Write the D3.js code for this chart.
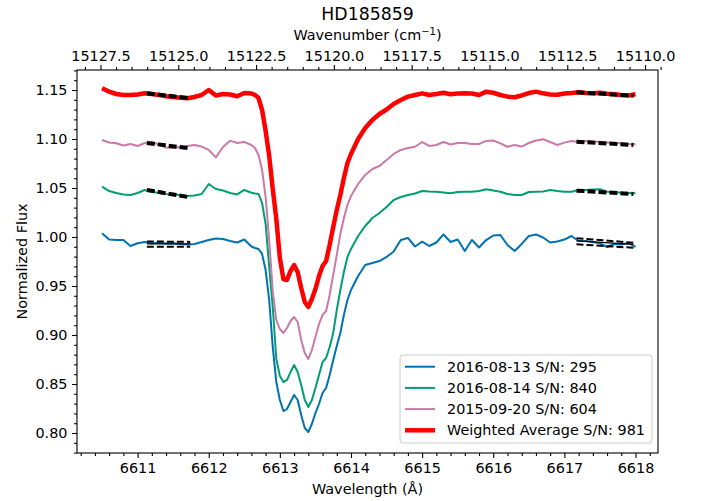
<!DOCTYPE html>
<html>
<head>
<meta charset="utf-8">
<script src="https://cdn.jsdelivr.net/npm/d3@7"></script>
<style>
  body { margin: 0; background: #fff; }
  text { font-family: "DejaVu Sans", sans-serif; fill: #000; }
</style>
</head>
<body>
<svg id="chart" width="705" height="501"></svg>
<script>
// wavelength grid (Å), finer through the line core
const wavelength = [
  6610.5, 6610.6, 6610.7, 6610.8, 6610.9, 6611.0, 6611.1, 6611.2, 6611.3, 6611.4,
  6611.5, 6611.6, 6611.7, 6611.8, 6611.9, 6612.0, 6612.1, 6612.2, 6612.3, 6612.4,
  6612.5,
  6612.6, 6612.65, 6612.7, 6612.75, 6612.8, 6612.85, 6612.9, 6612.95, 6613.0, 6613.05,
  6613.1, 6613.15, 6613.2, 6613.25, 6613.3, 6613.35, 6613.4, 6613.45, 6613.5, 6613.55,
  6613.6, 6613.65, 6613.7, 6613.75, 6613.8, 6613.85, 6613.9, 6613.95, 6614.0,
  6614.1, 6614.2, 6614.3, 6614.4, 6614.5, 6614.6, 6614.7, 6614.8, 6614.9, 6615.0,
  6615.1, 6615.2, 6615.3, 6615.4, 6615.5, 6615.6, 6615.7, 6615.8, 6615.9, 6616.0,
  6616.1, 6616.2, 6616.3, 6616.4, 6616.5, 6616.6, 6616.7, 6616.8, 6616.9, 6617.0,
  6617.1, 6617.2, 6617.3, 6617.4, 6617.5, 6617.6, 6617.7, 6617.8, 6617.9, 6618.0
];

const flux20160813 = [
  1.0038, 0.9974, 0.9969, 0.9969, 0.9908, 0.9936, 0.9949, 0.9936, 0.9942, 0.9934,
  0.9936, 0.9929, 0.9923, 0.9929, 0.9949, 0.9969, 0.9985, 0.9980, 0.9959, 0.9944,
  0.9974,
  0.9903, 0.9888, 0.9878, 0.9827, 0.9663, 0.9357, 0.8878, 0.8520, 0.8337, 0.8224,
  0.8245, 0.8316, 0.8388, 0.8337, 0.8184, 0.8051, 0.8010, 0.8092, 0.8204, 0.8296,
  0.8408, 0.8459, 0.8592, 0.8745, 0.8888, 0.9020, 0.9204, 0.9357, 0.9459,
  0.9602, 0.9714, 0.9735, 0.9755, 0.9796, 0.9852, 0.9969, 0.9990, 0.9903, 0.9952,
  0.9908, 0.9944, 1.0026, 0.9949, 0.9974, 0.9857, 0.9969, 0.9893, 0.9969, 1.0015,
  1.0020, 0.9918, 0.9857, 0.9929, 1.0010, 1.0026, 0.9995, 0.9944, 0.9954, 0.9974,
  1.0010, 0.9959, 0.9959, 0.9949, 0.9936, 0.9898, 0.9929, 0.9923, 0.9939, 0.9898
];

const flux20160814 = [
  1.0513, 1.0469, 1.0449, 1.0434, 1.0429, 1.0449, 1.0480, 1.0462, 1.0449, 1.0439,
  1.0434, 1.0429, 1.0418, 1.0423, 1.0439, 1.0541, 1.0490, 1.0474, 1.0449, 1.0434,
  1.0480,
  1.0452, 1.0444, 1.0439, 1.0347, 1.0133, 0.9694, 0.9286, 0.8755, 0.8582, 0.8520,
  0.8541, 0.8622, 0.8694, 0.8622, 0.8490, 0.8337, 0.8265, 0.8337, 0.8459, 0.8592,
  0.8724, 0.8765, 0.8878, 0.9020, 0.9255, 0.9459, 0.9643, 0.9796, 0.9878,
  1.0010, 1.0112, 1.0194, 1.0245, 1.0306, 1.0378, 1.0408, 1.0429, 1.0444, 1.0469,
  1.0464, 1.0462, 1.0454, 1.0446, 1.0459, 1.0462, 1.0462, 1.0469, 1.0487, 1.0474,
  1.0462, 1.0439, 1.0429, 1.0429, 1.0459, 1.0462, 1.0464, 1.0480, 1.0469, 1.0462,
  1.0462, 1.0480, 1.0480, 1.0485, 1.0487, 1.0462, 1.0459, 1.0452, 1.0449, 1.0446
];

const flux20150920 = [
  1.0990, 1.0964, 1.0956, 1.0934, 1.0949, 1.0929, 1.0959, 1.0969, 1.0944, 1.0913,
  1.0908, 1.0918, 1.0929, 1.0939, 1.0923, 1.0888, 1.0812, 1.0918, 1.0983, 1.0959,
  1.0969,
  1.0939, 1.0908, 1.0837, 1.0684, 1.0408, 0.9969, 0.9449, 0.9153, 0.9061, 0.9020,
  0.9071, 0.9143, 0.9184, 0.9133, 0.8949, 0.8816, 0.8755, 0.8847, 0.8980, 0.9112,
  0.9204, 0.9245, 0.9408, 0.9612, 0.9816, 1.0031, 1.0194, 1.0327, 1.0418,
  1.0541, 1.0633, 1.0694, 1.0724, 1.0786, 1.0847, 1.0888, 1.0908, 1.0921, 1.0969,
  1.0929, 1.0939, 1.0969, 1.0944, 1.0959, 1.0959, 1.0949, 1.0949, 1.0980, 1.0985,
  1.0956, 1.0921, 1.0939, 1.0923, 1.0959, 1.0985, 1.0997, 1.0969, 1.0939, 1.0963,
  1.0980, 1.0969, 1.0980, 1.0974, 1.0972, 1.0964, 1.0956, 1.0956, 1.0949, 1.0946
];

const fluxAverage = [
  1.1517, 1.1483, 1.1459, 1.1449, 1.1449, 1.1454, 1.1466, 1.1459, 1.1449, 1.1436,
  1.1429, 1.1421, 1.1415, 1.1429, 1.1449, 1.1500, 1.1444, 1.1459, 1.1454, 1.1436,
  1.1469,
  1.1464, 1.1449, 1.1418, 1.1296, 1.1082, 1.0827, 1.0490, 1.0184, 0.9786, 0.9571,
  0.9561, 0.9653, 0.9714, 0.9643, 0.9480, 0.9337, 0.9286, 0.9367, 0.9469, 0.9602,
  0.9704, 0.9755, 0.9918, 1.0102, 1.0276, 1.0429, 1.0602, 1.0755, 1.0847,
  1.1000, 1.1112, 1.1194, 1.1255, 1.1301, 1.1357, 1.1398, 1.1432, 1.1449, 1.1466,
  1.1449, 1.1459, 1.1472, 1.1456, 1.1464, 1.1466, 1.1464, 1.1449, 1.1483, 1.1472,
  1.1449, 1.1432, 1.1426, 1.1444, 1.1469, 1.1483, 1.1466, 1.1454, 1.1452, 1.1464,
  1.1469, 1.1477, 1.1469, 1.1466, 1.1472, 1.1462, 1.1456, 1.1449, 1.1444, 1.1456
];

const seriesLabels = ['2016-08-13 S/N: 295', '2016-08-14 S/N: 840', '2015-09-20 S/N: 604', 'Weighted Average S/N: 981'];
const seriesColors = ['#0072B2', '#009E73', '#CC79A7', '#FF0000'];
const seriesWidths = [2, 2, 2, 4.5];

// continuum regions and the fitted levels at their ends
const fitLeft = [6611.13, 6611.74];
const fitRight = [6617.17, 6617.97];
const fitAverage = [[1.1466, 1.1415], [1.1477, 1.1442]];
const fit20150920 = [[1.0959, 1.0904], [1.0972, 1.0939]];
const fit20160814 = [[1.0480, 1.0404], [1.0473, 1.0439]];
const fit20160813 = [[0.9929, 0.9929], [0.9960, 0.9925]];
const fit20160813Upper = [[0.9955, 0.9950], [0.9987, 0.9942]];
const fit20160813Lower = [[0.9901, 0.9901], [0.9925, 0.9890]];

const xTicks = [6611, 6612, 6613, 6614, 6615, 6616, 6617, 6618];
const yTicks = [0.80, 0.85, 0.90, 0.95, 1.00, 1.05, 1.10, 1.15];
const wnTicks = [15127.5, 15125.0, 15122.5, 15120.0, 15117.5, 15115.0, 15112.5, 15110.0];

const plotLeft = 77, plotRight = 658, plotTop = 70, plotBottom = 453;
const fontSize = 14.4;

const svg = d3.select('#chart');

const x = d3.scaleLinear().domain([6610.148, 6618.316]).range([plotLeft, plotRight]);
const y = d3.scaleLinear().domain([0.7796, 1.1704]).range([plotBottom, plotTop]);
// wavenumber (cm^-1) = 1e8 / wavelength (Å)
const wn = d3.scaleLinear().domain([1e8 / 6610.148, 1e8 / 6618.316]).range([plotLeft, plotRight]);

const xMinor = d3.range(6610.2, 6618.31, 0.2).filter(v => Math.abs(v - Math.round(v)) > 0.01);
const yMinor = d3.range(0.78, 1.171, 0.01).filter(v => Math.abs(v * 20 - Math.round(v * 20)) > 0.01);
const wnMinor = d3.range(15109.5, 15128.3, 0.5).filter(v => Math.abs(v / 2.5 - Math.round(v / 2.5)) > 0.01);

function styleAxis(g) {
  g.select('.domain').remove();
  g.selectAll('.tick line').attr('stroke', '#000').attr('stroke-width', 1.1);
  g.selectAll('.tick text').attr('font-size', fontSize).attr('font-family', '"DejaVu Sans", sans-serif').attr('fill', '#000');
}

// bottom axis
svg.append('g').attr('transform', `translate(0,${plotBottom})`)
  .call(d3.axisBottom(x).tickValues(xMinor).tickSize(2.9).tickFormat(''))
  .call(styleAxis);
svg.append('g').attr('transform', `translate(0,${plotBottom})`)
  .call(d3.axisBottom(x).tickValues(xTicks).tickSize(5).tickPadding(4.5).tickFormat(d3.format('d')))
  .call(styleAxis);

// left axis
svg.append('g').attr('transform', `translate(${plotLeft},0)`)
  .call(d3.axisLeft(y).tickValues(yMinor).tickSize(2.9).tickFormat(''))
  .call(styleAxis);
svg.append('g').attr('transform', `translate(${plotLeft},0)`)
  .call(d3.axisLeft(y).tickValues(yTicks).tickSize(5).tickPadding(4.5).tickFormat(d3.format('.2f')))
  .call(styleAxis);

// top axis in wavenumber
svg.append('g').attr('transform', `translate(0,${plotTop})`)
  .call(d3.axisTop(wn).tickValues(wnMinor).tickSize(2.9).tickFormat(''))
  .call(styleAxis);
svg.append('g').attr('transform', `translate(0,${plotTop})`)
  .call(d3.axisTop(wn).tickValues(wnTicks).tickSize(5).tickPadding(4.5).tickFormat(d3.format('.1f')))
  .call(styleAxis);

// spectra
const line = d3.line().x(d => x(d[0])).y(d => y(d[1]));
const allFlux = [flux20160813, flux20160814, flux20150920, fluxAverage];
allFlux.forEach((flux, i) => {
  svg.append('path')
    .datum(wavelength.map((w, j) => [w, flux[j]]))
    .attr('d', line)
    .attr('fill', 'none')
    .attr('stroke', seriesColors[i])
    .attr('stroke-width', seriesWidths[i])
    .attr('stroke-linejoin', 'round');
});

// continuum fits
function drawFit(fit, width, dash) {
  [fitLeft, fitRight].forEach((range, k) => {
    svg.append('path')
      .datum([[range[0], fit[k][0]], [range[1], fit[k][1]]])
      .attr('d', line)
      .attr('fill', 'none')
      .attr('stroke', '#000')
      .attr('stroke-width', width)
      .attr('stroke-dasharray', dash);
  });
}
drawFit(fit20160813, 1.3, null);
drawFit(fit20160813Upper, 2, '7,3');
drawFit(fit20160813Lower, 2, '7,3');
drawFit(fit20160814, 4, '8,3');
drawFit(fit20150920, 4, '8,3');
drawFit(fitAverage, 4, '8,3');

// frame
svg.append('rect')
  .attr('x', plotLeft).attr('y', plotTop)
  .attr('width', plotRight - plotLeft).attr('height', plotBottom - plotTop)
  .attr('fill', 'none').attr('stroke', '#000').attr('stroke-width', 1.1);

// legend
const legend = svg.append('g').attr('transform', 'translate(400,355)');
legend.append('rect')
  .attr('width', 252).attr('height', 88).attr('rx', 3)
  .attr('fill', '#fff').attr('fill-opacity', 0.8)
  .attr('stroke', '#ccc').attr('stroke-width', 1);
seriesLabels.forEach((label, i) => {
  const ly = 11.7 + i * 21.2;
  legend.append('line')
    .attr('x1', 5).attr('x2', 35).attr('y1', ly).attr('y2', ly)
    .attr('stroke', seriesColors[i]).attr('stroke-width', seriesWidths[i]);
  legend.append('text')
    .attr('x', 47).attr('y', ly).attr('dy', '0.36em')
    .attr('font-size', fontSize)
    .text(label);
});

// titles
svg.append('text')
  .attr('x', (plotLeft + plotRight) / 2).attr('y', 20)
  .attr('text-anchor', 'middle').attr('font-size', 17.3)
  .text('HD185859');

const wnLabel = svg.append('text')
  .attr('x', (plotLeft + plotRight) / 2).attr('y', 40)
  .attr('text-anchor', 'middle').attr('font-size', fontSize);
wnLabel.append('tspan').text('Wavenumber (cm');
wnLabel.append('tspan').attr('dy', -5).attr('font-size', 10).text('\u22121');
wnLabel.append('tspan').attr('dy', 5).text(')');

svg.append('text')
  .attr('x', (plotLeft + plotRight) / 2).attr('y', 494)
  .attr('text-anchor', 'middle').attr('font-size', fontSize)
  .text('Wavelength (\u00c5)');

svg.append('text')
  .attr('transform', `translate(27,${(plotTop + plotBottom) / 2}) rotate(-90)`)
  .attr('text-anchor', 'middle').attr('font-size', fontSize)
  .text('Normalized Flux');
</script>
</body>
</html>
